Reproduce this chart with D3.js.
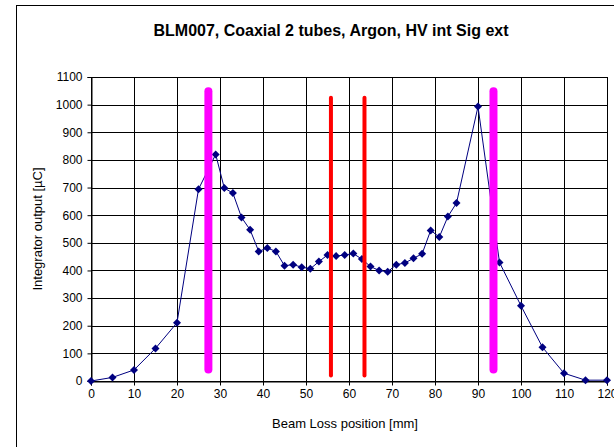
<!DOCTYPE html>
<html><head><meta charset="utf-8">
<script src="https://cdn.jsdelivr.net/npm/d3@7"></script>
<style>body{margin:0;background:#fff;} svg{display:block;font-family:"Liberation Sans",Arial,sans-serif;}</style>
</head><body>
<script>
const title = "BLM007, Coaxial 2 tubes, Argon, HV int Sig ext";
const xLabel = "Beam Loss position [mm]";
const yLabel = "Integrator output [µC]";
const xTicks = [0,10,20,30,40,50,60,70,80,90,100,110,120];
const yTicks = [0,100,200,300,400,500,600,700,800,900,1000,1100];
const posX = [0,5,10,15,20,25,29,31,33,35,37,39,41,43,45,47,49,51,53,55,57,59,61,63,65,67,69,71,73,75,77,79,81,83,85,90,95,100,105,110,115,120];
const valY = [0,13,40,118,211,694,820,698,680,592,547,469,481,469,417,421,412,406,432,456,452,456,461,441,414,400,395,421,427,444,460,545,521,595,644,993,429,272,122,28,3,3];
const magentaX = [27.3, 93.6];
const magentaY = [42, 1048];
const redX = [55.8, 63.6];
const redY = [20, 1025];

const W = 614, H = 447;
const m = {left:91, right:7, top:77, bottom:66};
const svg = d3.select("body").append("svg").attr("width",W).attr("height",H);
svg.append("rect").attr("x",16.5).attr("y",5.5).attr("width",620).attr("height",460)
  .attr("fill","#fff").attr("stroke","#000").attr("stroke-width",1);

const x = d3.scaleLinear().domain([0,120]).range([m.left, W-m.right]);
const y = d3.scaleLinear().domain([0,1100]).range([H-m.bottom, m.top]);

const g = svg.append("g");
g.selectAll(".vg").data(xTicks).enter().append("line")
  .attr("x1",d=>Math.round(x(d))+0.5).attr("x2",d=>Math.round(x(d))+0.5)
  .attr("y1",y(1100)).attr("y2",y(0)).attr("stroke","#000").attr("stroke-width",1).attr("shape-rendering","crispEdges");
g.selectAll(".hg").data(yTicks).enter().append("line")
  .attr("y1",d=>Math.round(y(d))+0.5).attr("y2",d=>Math.round(y(d))+0.5)
  .attr("x1",x(0)).attr("x2",x(120)).attr("stroke","#000").attr("stroke-width",1).attr("shape-rendering","crispEdges");

const xa = svg.append("g").attr("transform",`translate(0,${Math.round(y(0))+0.5})`)
  .call(d3.axisBottom(x).tickValues(xTicks).tickFormat(d3.format("d")).tickSize(4).tickPadding(4));
const ya = svg.append("g").attr("transform",`translate(${Math.round(x(0))+0.5},0)`)
  .call(d3.axisLeft(y).tickValues(yTicks).tickFormat(d3.format("d")).tickSize(4).tickPadding(5));
[xa,ya].forEach(a=>{
  a.selectAll("text").attr("font-size","12px").attr("fill","#000").attr("font-family","Liberation Sans, Arial, sans-serif");
  a.select(".domain").attr("stroke","#000");
  a.selectAll(".tick line").attr("stroke","#000");
});

const line = d3.line().x((d,i)=>x(posX[i])).y(d=>y(d));
svg.append("path").datum(valY).attr("d",line).attr("fill","none").attr("stroke","#000080").attr("stroke-width",1);
svg.selectAll(".pt").data(valY).enter().append("path")
  .attr("transform",(d,i)=>`translate(${x(posX[i])},${y(d)})`)
  .attr("d","M0,-4L4,0L0,4L-4,0Z").attr("fill","#000080");

svg.selectAll(".mg").data(magentaX).enter().append("line")
  .attr("x1",d=>x(d)).attr("x2",d=>x(d)).attr("y1",y(magentaY[0])).attr("y2",y(magentaY[1]))
  .attr("stroke","#ff00ff").attr("stroke-width",8).attr("stroke-linecap","round");
svg.selectAll(".rd").data(redX).enter().append("line")
  .attr("x1",d=>x(d)).attr("x2",d=>x(d)).attr("y1",y(redY[0])).attr("y2",y(redY[1]))
  .attr("stroke","#ff0000").attr("stroke-width",4).attr("stroke-linecap","round");

svg.append("text").attr("x",331).attr("y",36).attr("text-anchor","middle")
  .attr("font-size","16px").attr("font-weight","bold").text(title);
svg.append("text").attr("x",345).attr("y",428).attr("text-anchor","middle")
  .attr("font-size","13px").text(xLabel);
svg.append("text").attr("transform","translate(42,229) rotate(-90)").attr("text-anchor","middle")
  .attr("font-size","13px").text(yLabel);
</script>
</body></html>
